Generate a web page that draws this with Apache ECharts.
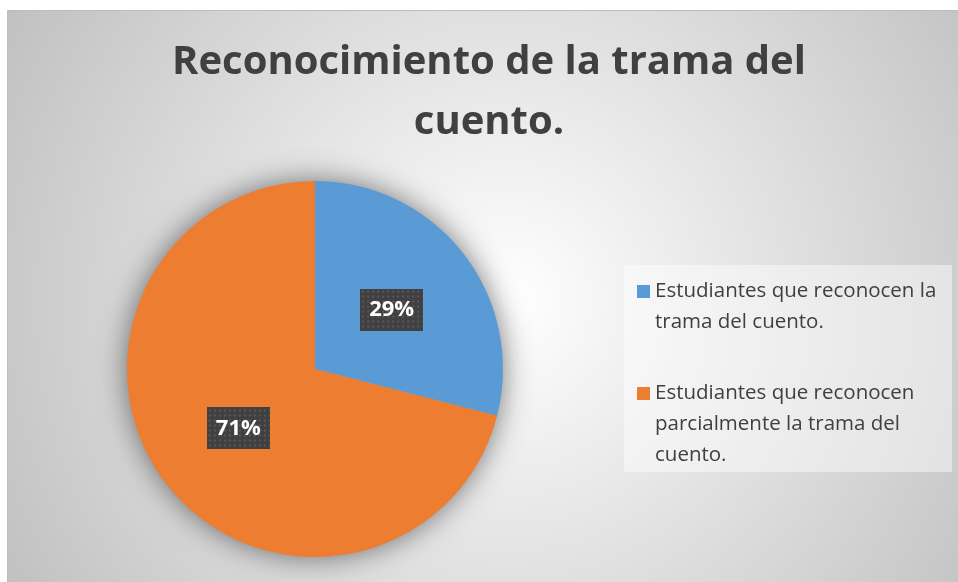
<!DOCTYPE html>
<html>
<head>
<meta charset="utf-8">
<script src="https://cdn.jsdelivr.net/npm/echarts@6/dist/echarts.min.js"></script>
<style>
  html, body { margin: 0; padding: 0; background: #fff; }
  #chart { width: 958px; height: 582px; }
</style>
</head>
<body>
<div id="chart"></div>
<script>
  // datos del gráfico
  var titleText = 'Reconocimiento de la trama del\ncuento.';
  var categories = [
    'Estudiantes que reconocen la trama del cuento.',
    'Estudiantes que reconocen parcialmente la trama del cuento.'
  ];
  var legendLabels = [
    'Estudiantes que reconocen la\ntrama del cuento.',
    'Estudiantes que reconocen\nparcialmente la trama del\ncuento.'
  ];
  var values = [29, 71];
  var colors = ['#5b9bd5', '#ed7d31'];

  var FONT = '"Open Sans", "Noto Sans", sans-serif';
  var LEGEND_LH = 31;
  var PIE_CENTER = [315, 369];
  var PIE_R = 188;

  // fondo punteado de las etiquetas
  function dotPattern(w, h) {
    var c = document.createElement('canvas');
    c.width = w; c.height = h;
    var ctx = c.getContext('2d');
    ctx.fillStyle = '#404040';
    ctx.fillRect(0, 0, w, h);
    ctx.fillStyle = '#595959';
    for (var y = 2; y < h; y += 5) {
      for (var x = 2; x < w; x += 5) {
        ctx.fillRect(x, y, 2, 2);
      }
    }
    return c;
  }
  var labelBg = dotPattern(63, 42);

  var chart = echarts.init(document.getElementById('chart'));

  var option = {
    animation: false,
    color: colors,
    graphic: [
      {
        type: 'rect',
        z: -10,
        shape: { x: 7.5, y: 10.5, width: 960, height: 580 },
        style: {
          fill: {
            type: 'radial', x: 0.52, y: 0.5, r: 1,
            colorStops: [
              { offset: 0, color: '#ffffff' },
              { offset: 1, color: '#c0c0c0' }
            ]
          },
          stroke: '#bdbdbd',
          lineWidth: 1
        },
        silent: true
      },
      {
        type: 'rect',
        z: -5,
        shape: { x: 624, y: 265, width: 328, height: 207 },
        style: { fill: 'rgba(255,255,255,0.45)' },
        silent: true
      },
      {
        type: 'text',
        x: 489,
        y: 33,
        style: {
          text: titleText,
          align: 'center',
          verticalAlign: 'top',
          font: 'bold 40px ' + FONT,
          lineHeight: 60,
          fill: '#404040'
        }
      }
    ],
    legend: {
      orient: 'vertical',
      left: 637,
      top: 245,
      padding: 0,
      itemWidth: 13,
      itemHeight: 13,
      itemGap: -22,
      icon: 'rect',
      data: categories,
      // lineas vacias delante para que el marcador quede en la primera linea
      formatter: function (name) {
        var txt = legendLabels[categories.indexOf(name)];
        var n = txt.split('\n').length;
        return new Array(n).join('\n') + txt;
      },
      textStyle: {
        fontFamily: FONT,
        fontSize: 20.5,
        lineHeight: LEGEND_LH,
        color: '#404040'
      }
    },
    series: [
      // disco de sombra debajo del pastel
      {
        type: 'pie',
        z: 1,
        silent: true,
        center: PIE_CENTER,
        radius: PIE_R - 1,
        label: { show: false },
        labelLine: { show: false },
        emphasis: { disabled: true },
        itemStyle: {
          color: '#a0a0a0',
          shadowBlur: 30,
          shadowColor: 'rgba(0,0,0,0.55)'
        },
        data: [{ name: 'sombra', value: 1 }]
      },
      {
        type: 'pie',
        z: 2,
        center: PIE_CENTER,
        radius: PIE_R,
        startAngle: 90,
        clockwise: true,
        emphasis: { disabled: true },
        label: {
          show: true,
          position: 'inside',
          formatter: '{d}%',
          color: '#ffffff',
          fontFamily: FONT,
          fontWeight: 'bold',
          fontSize: 22,
          width: 63,
          height: 42,
          lineHeight: 42,
          align: 'center',
          backgroundColor: { image: labelBg },
          shadowColor: 'rgba(0,0,0,0.5)',
          shadowBlur: 8,
          shadowOffsetX: 3,
          shadowOffsetY: 4
        },
        labelLine: { show: false },
        data: categories.map(function (name, i) {
          return { name: name, value: values[i] };
        })
      }
    ]
  };

  chart.setOption(option);
</script>
</body>
</html>
